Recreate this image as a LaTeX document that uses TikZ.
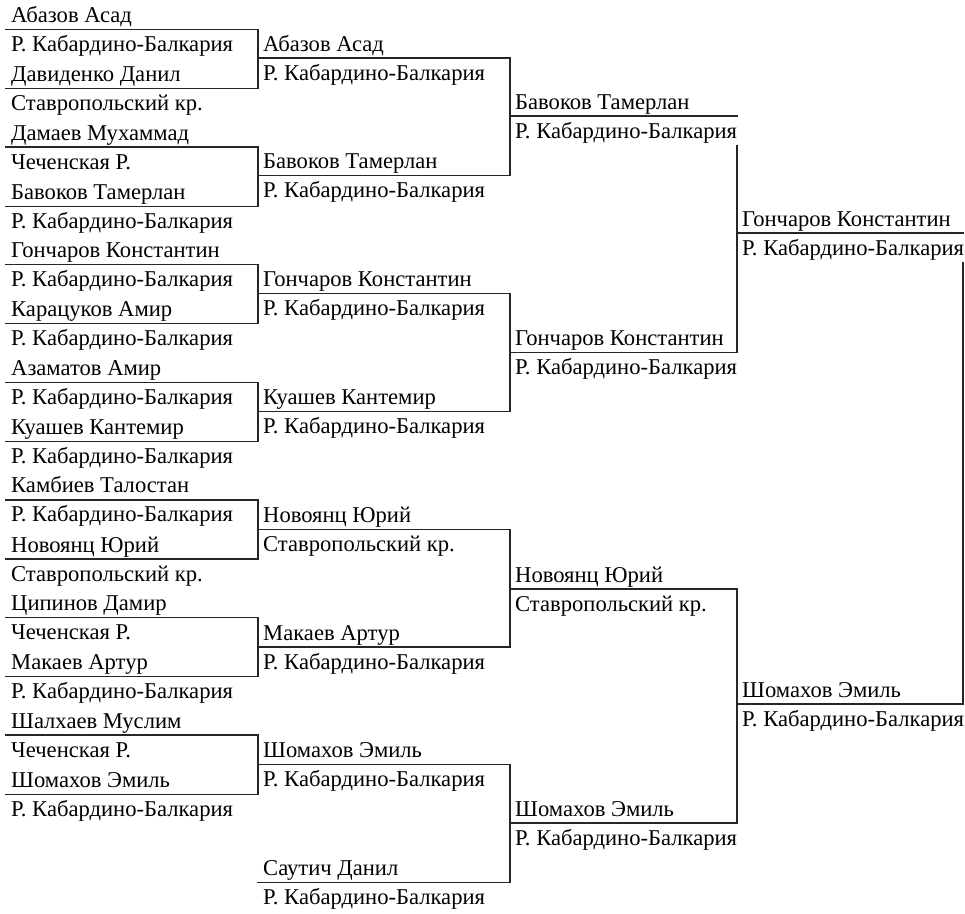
\documentclass[tikz,border=0pt]{standalone}
\usepackage{fontspec}
\setmainfont{Liberation Serif}
\tikzset{
  txt/.style={anchor=base west, inner sep=0pt, font=\fontsize{22.6}{24}\selectfont, text=black},
  ln/.style={line width=1.3pt, draw=black!85, line cap=rect}
}
% #1 id, #2 x start, #3 x end, #4 line y, #5 name, #6 region
\newcommand{\plentry}[6]{%
  \coordinate (#1a) at (#2,#4);
  \coordinate (#1b) at (#3,#4);
  \node[txt] (#1n) at (#2+5,#4-7) {#5};
  \node[txt] (#1r) at (#2+5,#4+22) {#6};
}
\begin{document}
\begin{tikzpicture}[x=1pt,y=-1pt]
\useasboundingbox (0,0) rectangle (965,913);
\def\RKB{Р. Кабардино-Балкария}
% ---------- Round 1 ----------
\plentry{a0}{6}{258}{29.5}{Абазов Асад}{\RKB}
\plentry{a1}{6}{258}{88.5}{Давиденко Данил}{Ставропольский кр.}
\plentry{a2}{6}{258}{147.1}{Дамаев Мухаммад}{Чеченская Р.}
\plentry{a3}{6}{258}{206.2}{Бавоков Тамерлан}{\RKB}
\plentry{a4}{6}{258}{264.7}{Гончаров Константин}{\RKB}
\plentry{a5}{6}{258}{323.8}{Карацуков Амир}{\RKB}
\plentry{a6}{6}{258}{382.3}{Азаматов Амир}{\RKB}
\plentry{a7}{6}{258}{441.4}{Куашев Кантемир}{\RKB}
\plentry{a8}{6}{258}{499.9}{Камбиев Талостан}{\RKB}
\plentry{a9}{6}{258}{559.0}{Новоянц Юрий}{Ставропольский кр.}
\plentry{a10}{6}{258}{617.5}{Ципинов Дамир}{Чеченская Р.}
\plentry{a11}{6}{258}{676.6}{Макаев Артур}{\RKB}
\plentry{a12}{6}{258}{735.1}{Шалхаев Муслим}{Чеченская Р.}
\plentry{a13}{6}{258}{794.2}{Шомахов Эмиль}{\RKB}
% ---------- Round 2 ----------
\plentry{b0}{258}{510}{58.0}{Абазов Асад}{\RKB}
\plentry{b1}{258}{510}{175.8}{Бавоков Тамерлан}{\RKB}
\plentry{b2}{258}{510}{293.6}{Гончаров Константин}{\RKB}
\plentry{b3}{258}{510}{411.4}{Куашев Кантемир}{\RKB}
\plentry{b4}{258}{510}{529.2}{Новоянц Юрий}{Ставропольский кр.}
\plentry{b5}{258}{510}{647.0}{Макаев Артур}{\RKB}
\plentry{b6}{258}{510}{764.8}{Шомахов Эмиль}{\RKB}
\plentry{b7}{258}{510}{882.6}{Саутич Данил}{\RKB}
% ---------- Round 3 ----------
\plentry{c0}{510}{737}{116.0}{Бавоков Тамерлан}{\RKB}
\plentry{c1}{510}{737}{352.5}{Гончаров Константин}{\RKB}
\plentry{c2}{510}{737}{589.0}{Новоянц Юрий}{Ставропольский кр.}
\plentry{c3}{510}{737}{823.0}{Шомахов Эмиль}{\RKB}
% ---------- Round 4 ----------
\plentry{d0}{737}{963}{233.0}{Гончаров Константин}{\RKB}
\plentry{d1}{737}{963}{704.0}{Шомахов Эмиль}{\RKB}
% gap ends of verticals (interrupted below the region text)
\coordinate (c0g) at (737,146);
\coordinate (d0g) at (963,263);
% ---------- brackets ----------
\foreach \i/\j in {0/1,2/3,4/5,6/7,8/9,10/11,12/13}{
  \draw[ln] (a\i a) -- (a\i b) -- (a\j b) -- (a\j a);
}
\foreach \i/\j in {0/1,2/3,4/5,6/7}{
  \draw[ln] (b\i a) -- (b\i b) -- (b\j b) -- (b\j a);
}
\draw[ln] (c0a) -- (c0b);
\draw[ln] (c0g) -- (c1b) -- (c1a);
\draw[ln] (c2a) -- (c2b) -- (c3b) -- (c3a);
\draw[ln] (d0a) -- (d0b);
\draw[ln] (d0g) -- (d1b) -- (d1a);
\end{tikzpicture}
\end{document}
